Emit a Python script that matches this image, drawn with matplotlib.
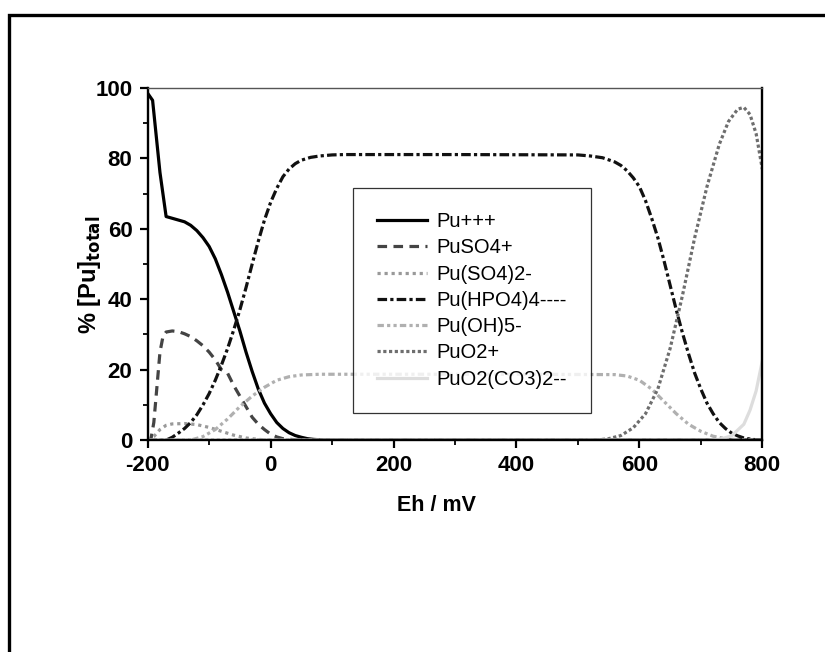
import matplotlib
matplotlib.use("Agg")
import matplotlib.pyplot as plt
from matplotlib.patches import Rectangle
import numpy as np

plt.rcParams["font.family"] = ["Liberation Sans", "DejaVu Sans"]
plt.rcParams["axes.unicode_minus"] = False

# Eh (mV) / % of total Pu
pu3_x = [-200, -192, -180, -170, -160, -150, -140, -130, -120, -110, -100, -90, -80, -70, -60, -50, -40,
         -30, -20, -10, 0, 10, 20, 30, 40, 50, 60, 70, 80, 100, 800]
pu3_y = [98.5, 96.5, 76, 63.5, 63, 62.5, 62, 61, 59.5, 57.5, 55, 51.5, 47, 42, 36.5, 31, 25,
         19.5, 14.5, 10.5, 7.5, 5, 3.3, 2.1, 1.3, 0.8, 0.4, 0.2, 0.1, 0, 0]

puso4_x = [-200, -195, -190, -185, -180, -175, -170, -160, -150, -140, -130, -120, -110, -100, -90, -80,
           -70, -60, -50, -40, -30, -20, -10, 0, 10, 20, 40, 60, 800]
puso4_y = [0, 0, 5, 15, 25, 29.5, 30.7, 31, 30.8, 30.2, 29.4, 28.2, 26.8, 25, 22.8, 20,
           19, 15.5, 12.5, 9.5, 6.5, 4.5, 3, 1.7, 0.9, 0.4, 0.1, 0, 0]

puso42_x = [-200, -190, -180, -170, -160, -140, -120, -100, -80, -60, -40, -20, 0, 800]
puso42_y = [0, 1, 3, 4.2, 4.6, 4.7, 4.4, 3.6, 2.5, 1.4, 0.6, 0.2, 0, 0]

puhpo4_x = [-200, -170, -160, -150, -140, -130, -120, -110, -100, -90, -80, -70, -60, -50, -40, -30, -20,
            -10, 0, 10, 20, 30, 40, 50, 65, 80, 100, 120, 300, 500, 520, 540, 560, 570, 580, 590, 600,
            610, 620, 630, 640, 650, 660, 670, 680, 690, 700, 710, 720, 730, 740, 750, 760, 770, 780,
            790, 800]
puhpo4_y = [0, 0, 0.8, 2, 3.3, 5, 7.2, 10, 13.2, 17, 21.3, 26, 31.3, 37, 43.3, 50, 56.5,
            62.5, 67.5, 71.5, 74.8, 77, 78.5, 79.5, 80.3, 80.7, 81, 81.1, 81.1, 81, 80.7, 80.2, 79, 78,
            76.5, 74.5, 72, 68, 63, 57.5, 51, 44, 37, 30.5, 24.5, 19, 14.5, 10.5, 7.5, 5, 3.3, 2, 1.2,
            0.6, 0.3, 0.1, 0]

puoh5_x = [-200, -130, -110, -90, -70, -50, -30, -10, 10, 30, 50, 80, 200, 400, 560, 580, 600, 620, 640,
           660, 680, 700, 720, 740, 760, 800]
puoh5_y = [0, 0, 1, 3, 6, 9.5, 12.5, 15, 17, 18, 18.5, 18.7, 18.7, 18.7, 18.6, 18.2, 17, 14.5, 11,
           7.5, 4.5, 2.5, 1.1, 0.4, 0.1, 0]

puo2_x = [-200, 530, 550, 570, 590, 610, 630, 650, 670, 690, 710, 730, 745, 760, 770, 780, 790, 800]
puo2_y = [0, 0, 0.4, 1.3, 3.5, 7.5, 14.5, 26, 41, 57.5, 72, 84, 90.5, 94, 94.5, 92.5, 87, 77]

puo2co3_x = [-200, 710, 730, 750, 770, 780, 790, 800]
puo2co3_y = [0, 0, 0.2, 1.2, 4.5, 8.5, 14, 22.5]

fig = plt.figure(figsize=(8.25, 6.52), dpi=100)
ax = fig.add_axes([0.179, 0.325, 0.745, 0.54])

# outer frame (only left and top are inside the picture)
fig.patches.append(Rectangle((0.011, -0.1), 1.2, 1.077, transform=fig.transFigure,
                             fill=False, edgecolor="black", linewidth=2.4))

lw = 2.3
ax.plot(pu3_x, pu3_y, color="black", lw=lw, label="Pu+++")
ax.plot(puso4_x, puso4_y, color="#444444", lw=lw, ls=(0, (3, 2)), label="PuSO4+")
ax.plot(puso42_x, puso42_y, color="#999999", lw=lw, ls=(0, (1, 1.2)), label="Pu(SO4)2-")
ax.plot(puhpo4_x, puhpo4_y, color="#111111", lw=lw, ls=(0, (3, 1, 1, 1)), label="Pu(HPO4)4----")
ax.plot(puoh5_x, puoh5_y, color="#b0b0b0", lw=lw, ls=(0, (2, 1, 1, 1, 1, 1)), label="Pu(OH)5-")
ax.plot(puo2_x, puo2_y, color="#6e6e6e", lw=lw, ls=(0, (1, 0.8)), label="PuO2+")
ax.plot(puo2co3_x, puo2co3_y, color="#dddddd", lw=lw, label="PuO2(CO3)2--")

ax.set_xlim(-200, 800)
ax.set_ylim(0, 100)
ax.set_xticks([-200, 0, 200, 400, 600, 800])
ax.set_xticks(np.arange(-100, 800, 200), minor=True)
ax.set_yticks([0, 20, 40, 60, 80, 100])
ax.set_yticks(np.arange(10, 100, 20), minor=True)
ax.tick_params(which="major", direction="out", length=6, width=1.6, labelsize=16, pad=5)
ax.tick_params(which="minor", direction="out", length=3.5, width=1.3)
for lab in ax.get_xticklabels() + ax.get_yticklabels():
    lab.set_fontweight("bold")
for side in ["left", "bottom", "right"]:
    ax.spines[side].set_linewidth(1.7)
ax.spines["top"].set_linewidth(1.0)
ax.spines["top"].set_color("#555555")

ax.set_xlabel("Eh / mV", fontsize=15.5, fontweight="bold", labelpad=10)
ax.xaxis.set_label_coords(0.47, -0.155)
ax.set_ylabel(r"% [Pu]$_{\mathbf{total}}$", fontsize=17, fontweight="bold")
ax.yaxis.set_label_coords(-0.072, 0.47)

leg = ax.legend(loc="upper left", bbox_to_anchor=(0.334, 0.716), borderaxespad=0, fontsize=14.5,
                frameon=True, fancybox=False, edgecolor="black", handlelength=2.5, labelspacing=0.36,
                borderpad=1.2, handletextpad=0.45)
leg.get_frame().set_linewidth(0.9)

fig.savefig("out.png", dpi=100)
